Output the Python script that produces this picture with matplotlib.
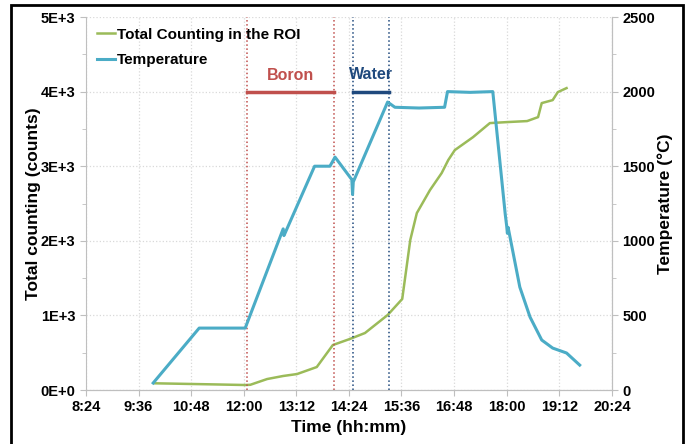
import matplotlib.pyplot as plt
from matplotlib.ticker import FuncFormatter, MultipleLocator
from matplotlib.patches import Rectangle

plt.rcParams['font.family'] = ['Liberation Sans', 'DejaVu Sans']
plt.rcParams['font.weight'] = 'bold'
plt.rcParams['axes.labelweight'] = 'bold'

# time in minutes since midnight
temp_time = [596, 659, 722, 774, 775, 776, 817, 838, 845, 868, 869, 870, 917, 927,
             960, 995, 999, 1030, 1061, 1078, 1080, 1081, 1082, 1098, 1112, 1128,
             1143, 1162, 1180]
temp_val = [47, 415, 415, 1080, 1035, 1045, 1500, 1500, 1561, 1410, 1310, 1395, 1930, 1895,
            1890, 1895, 2000, 1995, 2000, 1180, 1100, 1050, 1090, 690, 489, 335,
            281, 248, 167]

count_time = [598, 680, 722, 729, 752, 774, 793, 820, 842, 865, 886, 917, 937, 948,
              957, 975, 991, 1000, 1009, 1034, 1057, 1080, 1108, 1123, 1128, 1143,
              1150, 1162]
count_val = [90, 75, 67, 70, 147, 188, 214, 308, 603, 683, 764, 1005, 1220, 2010,
             2372, 2680, 2908, 3082, 3216, 3390, 3578, 3591, 3605, 3658, 3846, 3886,
             3993, 4047]

boron = [724, 843]
water = [869, 919]

xticks = [504, 576, 648, 720, 792, 864, 936, 1008, 1080, 1152, 1224]

green = '#9bbb59'
blue = '#4bacc6'
red = '#c0504d'
navy = '#1f497d'
gray = '#bfbfbf'

fig = plt.figure(figsize=(6.89, 4.44), dpi=100)
ax = fig.add_axes([0.1248, 0.1216, 0.888 - 0.1248, 0.9617 - 0.1216])
ax2 = ax.twinx()

l1, = ax.plot(count_time, count_val, color=green, lw=1.8, label='Total Counting in the ROI')
l2, = ax2.plot(temp_time, temp_val, color=blue, lw=2.2, label='Temperature')

for t in boron:
    ax.axvline(t, color=red, ls=':', lw=1.1)
for t in water:
    ax.axvline(t, color=navy, ls=':', lw=1.1)
ax.plot(boron, [4000, 4000], color=red, lw=2.5)
ax.plot(water, [4000, 4000], color=navy, lw=2.5)
ax.text(sum(boron) / 2, 4110, 'Boron', color=red, ha='center', va='bottom', fontsize=11.5)
ax.text(sum(water) / 2, 4130, 'Water', color=navy, ha='center', va='bottom', fontsize=11.5)

ax.set_xlim(504, 1224)
ax.set_ylim(0, 5000)
ax2.set_ylim(0, 2500)
ax.set_xticks(xticks)
ax.xaxis.set_major_formatter(FuncFormatter(lambda v, p: '%d:%02d' % (v // 60, v % 60)))
ax.yaxis.set_major_locator(MultipleLocator(1000))
ax.yaxis.set_minor_locator(MultipleLocator(500))
ax.yaxis.set_major_formatter(FuncFormatter(lambda v, p: '%dE+%d' % (v // 1000, 3) if v else '0E+0'))
ax2.yaxis.set_major_locator(MultipleLocator(500))
ax2.yaxis.set_minor_locator(MultipleLocator(250))

ax.grid(True, color='#d9d9d9', ls=':', lw=0.9)
ax.set_axisbelow(True)

for a in (ax, ax2):
    a.spines['top'].set_visible(False)
    for s in ('left', 'right', 'bottom'):
        a.spines[s].set_color(gray)
    a.tick_params(which='both', colors=gray, labelcolor='black', labelsize=10.5)
    a.tick_params(which='major', length=4)
    a.tick_params(which='minor', length=3)
ax2.spines['left'].set_visible(False)

ax.set_xlabel('Time (hh:mm)', fontsize=12.5, labelpad=4)
ax.set_ylabel('Total counting (counts)', fontsize=12.5, labelpad=0)
ax2.set_ylabel('Temperature (°C)', fontsize=12.5, labelpad=2)

ax.legend(handles=[l1, l2], loc='upper left', bbox_to_anchor=(0.0, 1.0), frameon=False,
          fontsize=11, handlelength=1.2, handletextpad=0.1, labelspacing=0.75,
          borderaxespad=0.3)

fig.patches.append(Rectangle((11 / 689, -0.05), (683 - 11) / 689, 1.05 - 5 / 444,
                             transform=fig.transFigure, fill=False, edgecolor='black', lw=2))

fig.savefig('out.png', dpi=100)
